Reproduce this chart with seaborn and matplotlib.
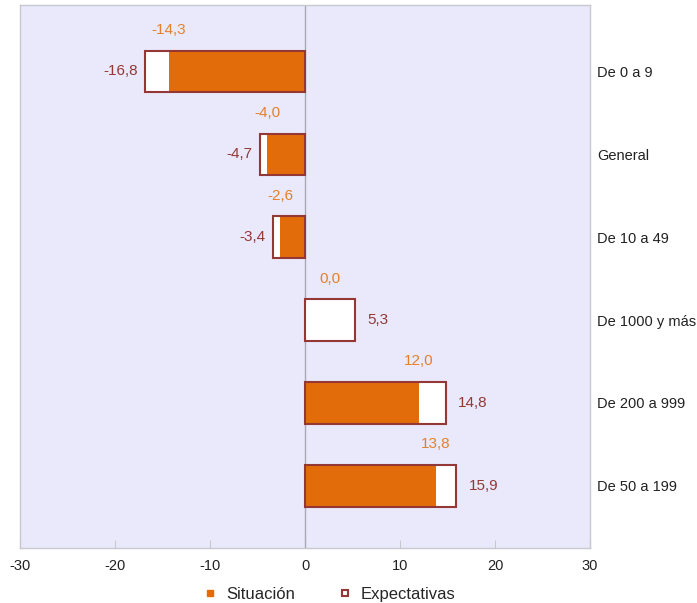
import pandas as pd
import seaborn as sns
import matplotlib.pyplot as plt
import numpy as np
from matplotlib.lines import Line2D

# Data
categorias = ['De 0 a 9', 'General', 'De 10 a 49', 'De 1000 y más', 'De 200 a 999', 'De 50 a 199']
situacion = [-14.3, -4.0, -2.6, 0.0, 12.0, 13.8]
expectativas = [-16.8, -4.7, -3.4, 5.3, 14.8, 15.9]

df = pd.DataFrame({'categoria': categorias, 'Situación': situacion, 'Expectativas': expectativas})

naranja = '#E36C0A'
granate = '#953735'
fondo = '#E9E9FB'

sns.set_style('white')
plt.rcParams['font.family'] = ['Liberation Sans', 'DejaVu Sans']

fig = plt.figure(figsize=(6.97, 6.03), dpi=100)
ax = fig.add_axes([0.0287, 0.0912, 0.8178, 0.9005])
ax.set_facecolor(fondo)

# Expectativas: white bar, then Situación on top, then the outline again
sns.barplot(data=df, x='Expectativas', y='categoria', orient='h', color='white',
            width=0.5, edgecolor='none', linewidth=0, ax=ax, zorder=2)
sns.barplot(data=df, x='Situación', y='categoria', orient='h', color=naranja,
            width=0.5, edgecolor='none', linewidth=0, saturation=1, ax=ax, zorder=3)
sns.barplot(data=df, x='Expectativas', y='categoria', orient='h', fill=False,
            width=0.5, edgecolor=granate, linewidth=1.5, ax=ax, zorder=4)

ax.axvline(0, color='#A8A8B8', lw=1, zorder=1)

# Value labels
for i, (s, e) in enumerate(zip(situacion, expectativas)):
    xs = s if s != 0 else e / 2
    ax.text(xs, i - 0.5, f'{s:.1f}'.replace('.', ','), color='#E5802A',
            ha='center', va='center', fontsize=11)
    if e < 0:
        ax.text(e - 0.8, i, f'{e:.1f}'.replace('.', ','), color=granate,
                ha='right', va='center', fontsize=11)
    else:
        ax.text(e + 1.3, i, f'{e:.1f}'.replace('.', ','), color=granate,
                ha='left', va='center', fontsize=11)

ax.set_xlim(-30, 30)
ax.set_ylim(5.75, -0.8)
ax.set_xticks([-30, -20, -10, 0, 10, 20, 30])
ax.set_xticklabels(['-30', '-20', '-10', '0', '10', '20', '30'])
ax.set_xlabel('')
ax.set_ylabel('')
ax.yaxis.tick_right()
ax.tick_params(axis='y', length=0, pad=5, labelsize=10.5, labelcolor='#222222')
ax.tick_params(axis='x', direction='in', length=6, color='#C8C8D0', pad=8,
               labelsize=10.5, labelcolor='#222222', bottom=True)

for sp in ax.spines.values():
    sp.set_color('#C8C8D0')
    sp.set_linewidth(1)

# Legend
handles = [
    Line2D([], [], marker='s', ls='none', markersize=5, markerfacecolor=naranja,
           markeredgecolor=naranja, label='Situación'),
    Line2D([], [], marker='s', ls='none', markersize=5, markerfacecolor='white',
           markeredgecolor=granate, markeredgewidth=1.5, label='Expectativas'),
]
fig.legend(handles=handles, loc='center', bbox_to_anchor=(0.474, 0.014), ncol=2,
           frameon=False, fontsize=12, handlelength=0.6, handletextpad=0.65,
           columnspacing=2.7, borderpad=0)

fig.savefig('out.png', dpi=100)
